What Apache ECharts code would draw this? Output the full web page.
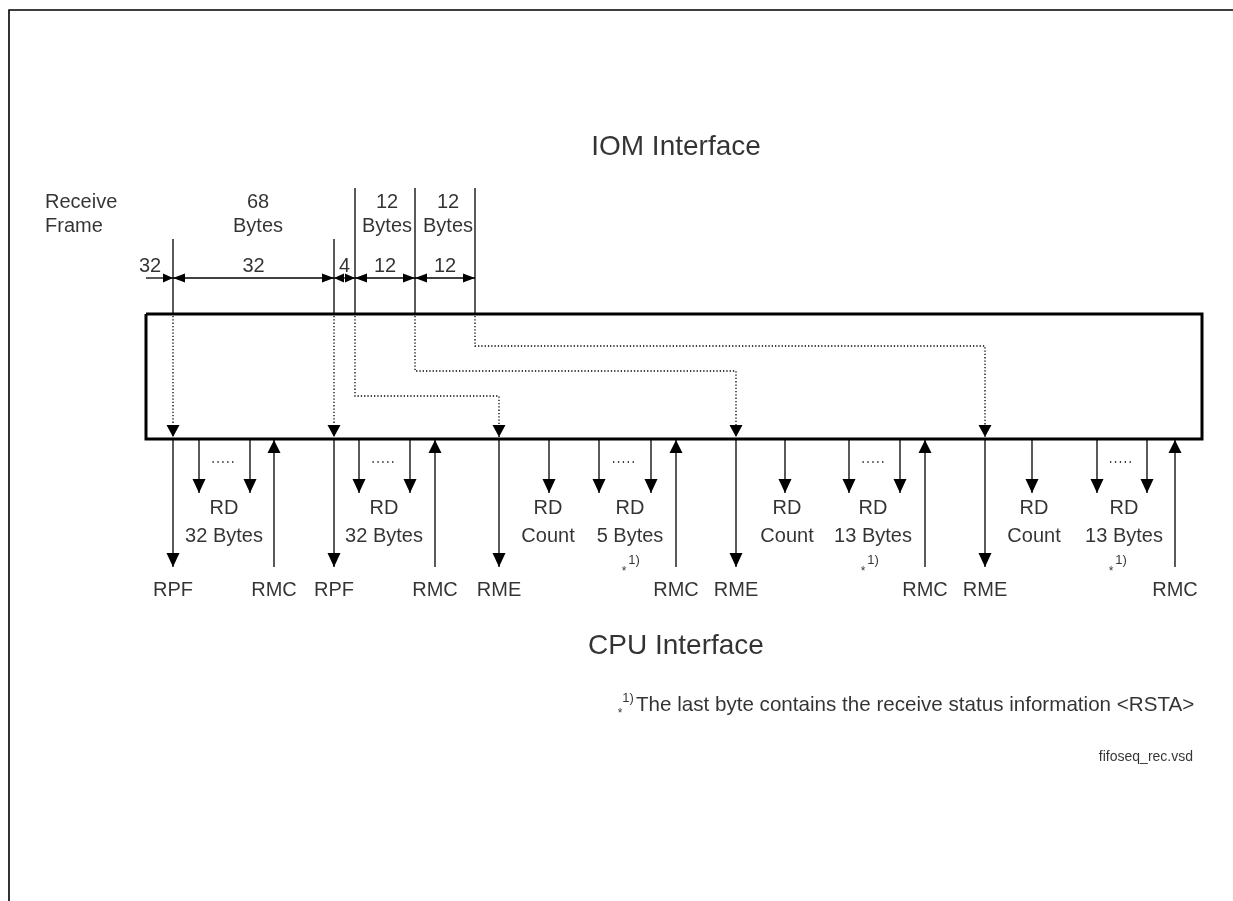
<!DOCTYPE html>
<html>
<head>
<meta charset="utf-8">
<script src="https://cdn.jsdelivr.net/npm/echarts@6/dist/echarts.min.js"></script>
<style>
  html, body { margin: 0; padding: 0; background: #fff; }
  #main { width: 1233px; height: 901px; }
</style>
</head>
<body>
<div id="main"></div>
<script>
// --- data ---
const titleTop = 'IOM Interface'
const titleBottom = 'CPU Interface'

// frame boundaries on the IOM side and where each tick starts
const frameX = [173, 334, 355, 415, 475]
const frameTickTop = [239, 239, 188, 188, 188]

// byte spans on the dimension line
const spanFrom = [146, 173, 334, 355, 415]
const spanTo = [173, 334, 355, 415, 475]
const spanLabels = ['32', '32', '4', '12', '12']

// frame size captions
const frameLabels = ['68\nBytes', '12\nBytes', '12\nBytes']
const frameLabelX = [258, 387, 448]

// dotted routing from a frame boundary to the interrupt it raises
const routeFrom = [173, 334, 355, 415, 475]
const routeTo = [173, 334, 499, 736, 985]
const routeLevel = [null, null, 396, 371, 346]

// interrupts / commands on the CPU side
const irqNames = ['RPF', 'RMC', 'RPF', 'RMC', 'RME', 'RMC', 'RME', 'RMC', 'RME', 'RMC']
const irqX = [173, 274, 334, 435, 499, 676, 736, 925, 985, 1175]

// RD accesses
const readX = [[199, 250], [359, 410], [549], [599, 651], [785], [849, 900], [1032], [1097, 1147]]
const readLabels = ['RD\n32 Bytes', 'RD\n32 Bytes', 'RD\nCount', 'RD\n5 Bytes', 'RD\nCount', 'RD\n13 Bytes', 'RD\nCount', 'RD\n13 Bytes']
const readLabelX = [224, 384, 548, 630, 787, 873, 1034, 1124]

// footnote markers next to the status byte reads
const noteX = [629, 868, 1116]

const footnote = 'The last byte contains the receive status information <RSTA>'
const fileName = 'fifoseq_rec.vsd'

// --- layout ---
const W = 1233, H = 901
const box = { left: 146, right: 1202, top: 314, bottom: 439 }
const dimY = 278
const irqEnd = 567
const readEnd = 493
const FONT = '"Liberation Sans", Arial, sans-serif'

const thin = [], thick = [], dotted = [], heads = [], texts = []

function head(x, y, dir, len, wid) {
  const shapes = {
    down: 'path://M0,0L2,0L1,2Z',
    up: 'path://M1,0L2,2L0,2Z',
    right: 'path://M0,0L2,1L0,2Z',
    left: 'path://M2,0L0,1L2,2Z'
  }
  const vertical = dir === 'down' || dir === 'up'
  const off = { down: [0, -len / 2], up: [0, len / 2], right: [-len / 2, 0], left: [len / 2, 0] }[dir]
  heads.push({ value: [x, y], symbol: shapes[dir], symbolSize: vertical ? [wid, len] : [len, wid], symbolOffset: off })
}

function text(x, y, str, size, extra) {
  texts.push({ name: str, value: [x, y], label: Object.assign({ fontSize: size }, extra || {}) })
}

// page frame
thin.push({ coords: [[9, H], [9, 10], [W, 10]], lineStyle: { width: 1.6 } })

// FIFO box
thick.push({ coords: [[box.left, box.top], [box.right, box.top], [box.right, box.bottom], [box.left, box.bottom], [box.left, box.top]] })

// ticks above the box
frameX.forEach((x, i) => thin.push({ coords: [[x, frameTickTop[i]], [x, box.top]] }))

// dimension arrows
spanFrom.forEach((a, i) => {
  const b = spanTo[i]
  const len = b - a < 30 ? 10 : 12
  thin.push({ coords: [[a, dimY], [b, dimY]] })
  head(b, dimY, 'right', len, 9)
  if (i > 0) head(a, dimY, 'left', len, 9)
  const lx = i === 0 ? 150 : (a + b) / 2
  text(lx, 266, spanLabels[i], 20)
})

// dotted routes inside the box
routeFrom.forEach((x, i) => {
  const to = routeTo[i]
  const pts = routeLevel[i] == null
    ? [[x, box.top + 2], [to, box.bottom - 2]]
    : [[x, box.top + 2], [x, routeLevel[i]], [to, routeLevel[i]], [to, box.bottom - 2]]
  dotted.push({ coords: pts })
  head(to, box.bottom - 2, 'down', 12, 13)
})

// interrupts
irqNames.forEach((name, i) => {
  const x = irqX[i]
  thin.push({ coords: [[x, box.bottom + 1], [x, irqEnd]] })
  if (name === 'RMC') head(x, box.bottom + 1, 'up', 13, 13)
  else head(x, irqEnd, 'down', 14, 13)
  text(x, 590, name, 20)
})

// reads
readX.forEach((xs, i) => {
  xs.forEach(x => {
    thin.push({ coords: [[x, box.bottom + 1], [x, readEnd]] })
    head(x, readEnd, 'down', 14, 13)
  })
  if (xs.length > 1) {
    const c = (xs[0] + xs[1]) / 2
    dotted.push({ coords: [[c - 12, 462], [c + 12, 462]], lineStyle: { width: 1.3, type: [1.3, 3.6] } })
  }
  text(readLabelX[i], 522, readLabels[i], 20, { lineHeight: 28 })
})

// footnote markers
noteX.forEach(x => {
  text(x - 5, 572, '*', 12)
  text(x + 5, 560, '1)', 13)
})

// captions
text(45, 214, 'Receive\nFrame', 20, { align: 'left', lineHeight: 24 })
frameLabels.forEach((s, i) => text(frameLabelX[i], 214, s, 20, { lineHeight: 24 }))
text(676, 147, titleTop, 28)
text(676, 646, titleBottom, 28)
text(620, 714, '*', 12)
text(628, 698, '1)', 13)
text(636, 705, footnote, 20.6, { align: 'left' })
text(1193, 757, fileName, 14, { align: 'right' })

const chart = echarts.init(document.getElementById('main'))
chart.setOption({
  animation: false,
  backgroundColor: '#fff',
  grid: { left: 0, right: 0, top: 0, bottom: 0 },
  xAxis: { type: 'value', min: 0, max: W, show: false },
  yAxis: { type: 'value', min: 0, max: H, inverse: true, show: false },
  series: [
    {
      type: 'lines', coordinateSystem: 'cartesian2d', polyline: true, silent: true,
      lineStyle: { color: '#000', width: 1.3, opacity: 1 },
      data: thin
    },
    {
      type: 'lines', coordinateSystem: 'cartesian2d', polyline: true, silent: true,
      lineStyle: { color: '#000', width: 3, opacity: 1 },
      data: thick
    },
    {
      type: 'lines', coordinateSystem: 'cartesian2d', polyline: true, silent: true,
      lineStyle: { color: '#000', width: 1.3, type: [1.3, 2], opacity: 1 },
      data: dotted
    },
    {
      type: 'scatter', silent: true, z: 5,
      itemStyle: { color: '#000', opacity: 1 },
      data: heads
    },
    {
      type: 'scatter', silent: true, z: 6,
      symbolSize: 1,
      itemStyle: { color: 'rgba(0,0,0,0)' },
      label: {
        show: true, position: 'inside', color: '#000', fontFamily: FONT,
        textBorderWidth: 0,
        formatter: p => p.name
      },
      data: texts
    }
  ]
})
</script>
</body>
</html>
